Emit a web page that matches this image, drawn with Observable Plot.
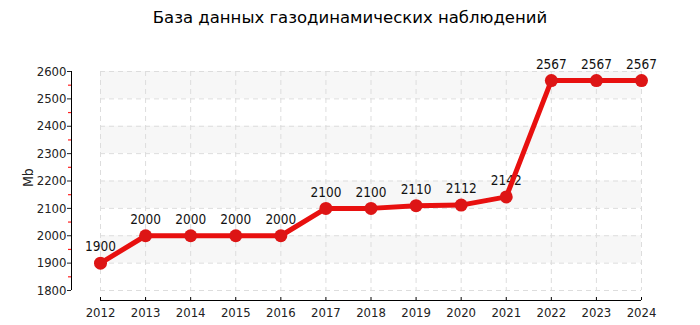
<!DOCTYPE html>
<html><head><meta charset="utf-8">
<script src="https://cdn.jsdelivr.net/npm/d3@7"></script>
<script src="https://cdn.jsdelivr.net/npm/@observablehq/plot@0.6"></script>
<style>
body{margin:0;background:#fff;font-family:"DejaVu Sans",sans-serif;}
#title{height:36px;line-height:36px;text-align:center;font-size:16.5px;color:#000;width:700px;}
</style></head><body>
<div id="title">База данных газодинамических наблюдений</div>
<div id="chart"></div>
<script>
const years = [2012,2013,2014,2015,2016,2017,2018,2019,2020,2021,2022,2023,2024];
const sizes = [1900,2000,2000,2000,2000,2100,2100,2110,2112,2142,2567,2567,2567];
const yTicks = [1800,1900,2000,2100,2200,2300,2400,2500,2600];
const yMinor = [1850,1950,2050,2150,2250,2350,2450,2550];
const bands = [1900,2100,2300,2500];
const data = years.map((y,i)=>({year:y, size:sizes[i]}));
const F = "DejaVu Sans Condensed, DejaVu Sans, sans-serif";

const chart = Plot.plot({
  width:700, height:289,
  marginLeft:100, marginRight:59, marginTop:35, marginBottom:35,
  style:{fontFamily:F, fontSize:"13px", color:"#222"},
  x:{type:"linear", domain:[2012,2024]},
  y:{type:"linear", domain:[1800,2600]},
  marks:[
    Plot.rectY(bands,{x1:2012,x2:2024,y1:d=>d,y2:d=>d+100,fill:"#f7f7f7"}),
    Plot.gridY(yTicks,{stroke:"#ddd",strokeOpacity:1,strokeDasharray:"5,4"}),
    Plot.gridX(years,{stroke:"#ddd",strokeOpacity:1,strokeDasharray:"5,4"}),
    // y axis
    Plot.ruleX([2012],{y1:1800,y2:2600,dx:-29,stroke:"#000"}),
    Plot.axisY(yTicks,{dx:-29,tickSize:4,tickPadding:1,tickFormat:d=>String(d),label:null,fontSize:13,fontFamily:F,fill:"#222"}),
    Plot.ruleY(yMinor,{x1:2012,x2:2012,insetLeft:-3,dx:-29,stroke:"#ff2020",strokeWidth:1.2}),
    // x axis
    Plot.ruleY([1800],{x1:2012,x2:2024,dy:10,stroke:"#000"}),
    Plot.axisX(years,{tickSize:0,tickPadding:17,tickFormat:d=>String(d),label:null,fontSize:13,fontFamily:F,fill:"#222"}),
    Plot.ruleX(years,{y1:1800,y2:1800,insetTop:-3,dy:10,stroke:"#000"}),
    Plot.text(["Mb"],{frameAnchor:"left",dx:-72,dy:6,rotate:-90,fontSize:14,fontFamily:F,fill:"#222"}),
    Plot.text(data,{x:"year",y:"size",text:d=>String(d.size),dy:-16,fontSize:13.5,fontFamily:F,fill:"#111"}),
    Plot.line(data,{x:"year",y:"size",stroke:"#e8100f",strokeWidth:5}),
    Plot.dot(data,{x:"year",y:"size",r:6.5,fill:"#dd1515",stroke:"none"})
  ]
});
document.getElementById("chart").appendChild(chart);
</script>
</body></html>
